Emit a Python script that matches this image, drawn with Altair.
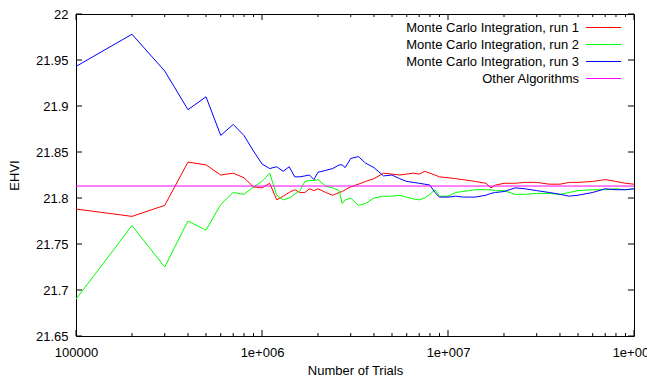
import json
import altair as alt
import pandas as pd

# ---------------- data ----------------
trials = [1e5, 2e5, 3e5, 4e5, 5e5, 6e5, 7e5, 8e5, 9e5, 1e6,
          1.1e6, 1.2e6, 1.3e6, 1.4e6, 1.5e6, 1.6e6, 1.7e6, 1.8e6, 1.9e6, 2.0e6,
          2.2e6, 2.4e6, 2.6e6, 2.7e6, 2.8e6, 3.0e6,
          3.3e6, 3.6e6, 4.0e6, 4.5e6, 5.0e6, 5.5e6, 6.0e6, 6.5e6, 7.0e6, 7.5e6, 8.0e6, 8.5e6, 9.0e6,
          1e7, 1.1e7, 1.2e7, 1.4e7, 1.6e7, 1.7e7, 1.8e7, 2.0e7,
          2.3e7, 2.6e7, 3.0e7, 3.5e7, 4.0e7, 4.5e7, 5.0e7, 6.0e7, 7.0e7, 8.0e7, 9.0e7,
          1e8]

run1 = [21.788, 21.780, 21.792, 21.839, 21.836, 21.825, 21.827, 21.822, 21.812, 21.811,
        21.816, 21.798, 21.802, 21.806, 21.809, 21.806, 21.806, 21.810, 21.808, 21.810,
        21.806, 21.803, 21.806, 21.807, 21.809, 21.812,
        21.815, 21.818, 21.821, 21.827, 21.826, 21.825, 21.826, 21.827, 21.826, 21.829, 21.827, 21.825, 21.823,
        21.822, 21.821, 21.820, 21.818, 21.816, 21.811, 21.814, 21.816,
        21.816, 21.817, 21.817, 21.815, 21.815, 21.817, 21.817, 21.818, 21.820, 21.818, 21.816,
        21.815]

run2 = [21.690, 21.770, 21.725, 21.775, 21.765, 21.793, 21.806, 21.804, 21.812, 21.818,
        21.827, 21.803, 21.798, 21.800, 21.804, 21.808, 21.818, 21.819, 21.819, 21.820,
        21.813, 21.811, 21.808, 21.794, 21.798, 21.800,
        21.792, 21.794, 21.800, 21.802, 21.802, 21.803, 21.801, 21.799, 21.798, 21.800, 21.804, 21.809, 21.802,
        21.802, 21.806, 21.807, 21.809, 21.809, 21.809, 21.808, 21.808,
        21.804, 21.804, 21.805, 21.805, 21.804, 21.806, 21.808, 21.809, 21.809, 21.810, 21.809,
        21.810]

run3 = [21.943, 21.978, 21.938, 21.896, 21.910, 21.868, 21.880, 21.868, 21.851, 21.837,
        21.832, 21.834, 21.829, 21.834, 21.823, 21.823, 21.824, 21.825, 21.820, 21.828,
        21.830, 21.832, 21.836, 21.836, 21.833, 21.843,
        21.845, 21.838, 21.833, 21.824, 21.825, 21.821, 21.818, 21.817, 21.816, 21.815, 21.814, 21.806, 21.801,
        21.801, 21.802, 21.801, 21.801, 21.803, 21.805, 21.806, 21.807,
        21.811, 21.810, 21.808, 21.806, 21.804, 21.802, 21.803, 21.806, 21.810, 21.809, 21.809,
        21.810]

other_trials = [1e5, 1e8]
other_value = 21.813

series_names = ["Monte Carlo Integration, run 1", "Monte Carlo Integration, run 2",
                "Monte Carlo Integration, run 3", "Other Algorithms"]
series_colors = ["#ff0000", "#00ff00", "#0000ff", "#ff00ff"]

x_major = [1e5, 1e6, 1e7, 1e8]
x_major_labels = ["100000", "1e+006", "1e+007", "1e+008"]
x_minor = [m * 10 ** e for e in (5, 6, 7) for m in range(2, 10)]
y_ticks = [21.65, 21.7, 21.75, 21.8, 21.85, 21.9, 21.95, 22.0]

# ---------------- tables ----------------
rows = []
for name, vals in zip(series_names[:3], [run1, run2, run3]):
    for t, v in zip(trials, vals):
        rows.append({"series": name, "trials": t, "ehvi": v})
for t in other_trials:
    rows.append({"series": series_names[3], "trials": t, "ehvi": other_value})
df = pd.DataFrame(rows)

xmaj_df = pd.DataFrame({"v": x_major})
xmin_df = pd.DataFrame({"v": x_minor})
ytk_df = pd.DataFrame({"v": y_ticks})

W, H = 558, 322
FONT = "Liberation Sans"
FS = 13
MAJ, MIN = 6, 3

xscale = alt.Scale(type="log", domain=[1e5, 1e8], nice=False)
yscale = alt.Scale(domain=[21.65, 22.0], nice=False, zero=False)

label_expr = json.dumps(x_major_labels) + "[round(log(datum.value)/LN10) - 5]"

xaxis = alt.Axis(orient="bottom", values=x_major, labelExpr=label_expr, ticks=False, domain=False,
                 grid=False, labelPadding=10, labelFont=FONT, labelFontSize=FS, labelColor="black",
                 labelFlush=False, title="Number of Trials", titleFont=FONT, titleFontSize=FS,
                 titleFontWeight="normal", titleColor="black", titlePadding=5)
yaxis = alt.Axis(orient="left", values=y_ticks, format=".2~f", ticks=False, domain=False, grid=False,
                 labelPadding=8, labelFont=FONT, labelFontSize=FS, labelColor="black",
                 labelFlush=False, title="EHVI", titleFont=FONT, titleFontSize=FS,
                 titleFontWeight="normal", titleColor="black", titlePadding=14)

legend = alt.Legend(title=None, orient="none", legendX=521, legendY=7,
                    symbolType="M-5,0L5,0", symbolSize=49, symbolStrokeWidth=1,
                    labelAlign="right", labelOffset={"expr": "-31"}, labelLimit=400,
                    labelFont=FONT, labelFontSize=FS, labelColor="black",
                    rowPadding=3, padding=0)

color = alt.Color("series:N", scale=alt.Scale(domain=series_names, range=series_colors),
                  legend=legend)

base = alt.Chart(df)
line_layers = []
for i, n in enumerate(series_names):
    line_layers.append(
        base.transform_filter(alt.datum.series == n)
        .mark_line(strokeWidth=1, clip=True)
        .encode(x=alt.X("trials:Q", scale=xscale, axis=xaxis if i == 0 else None),
                y=alt.Y("ehvi:Q", scale=yscale, axis=yaxis if i == 0 else None),
                color=color)
    )

# gnuplot-style inward ticks on all four sides, drawn from the tick value lists
tick_layers = []
for tdf, ln in ((xmaj_df, MAJ), (xmin_df, MIN)):
    tick_layers.append(alt.Chart(tdf).mark_rule(color="black", strokeWidth=1).encode(
        x=alt.X("v:Q", scale=xscale, axis=None), y=alt.value(H), y2=alt.value(H - ln)))
    tick_layers.append(alt.Chart(tdf).mark_rule(color="black", strokeWidth=1).encode(
        x=alt.X("v:Q", scale=xscale, axis=None), y=alt.value(0), y2=alt.value(ln)))
tick_layers.append(alt.Chart(ytk_df).mark_rule(color="black", strokeWidth=1).encode(
    y=alt.Y("v:Q", scale=yscale, axis=None), x=alt.value(0), x2=alt.value(MAJ)))
tick_layers.append(alt.Chart(ytk_df).mark_rule(color="black", strokeWidth=1).encode(
    y=alt.Y("v:Q", scale=yscale, axis=None), x=alt.value(W - MAJ), x2=alt.value(W)))

chart = alt.layer(*line_layers, *tick_layers).resolve_axis(
    x="independent", y="independent"
).properties(
    width=W, height=H,
    autosize=alt.AutoSizeParams(type="none"),
    padding={"left": 68, "top": 6, "right": 13, "bottom": 42},
    background="white",
).configure_view(stroke="black", strokeWidth=1)

chart.save("out.html", embed_options={"renderer": "svg", "actions": False})
